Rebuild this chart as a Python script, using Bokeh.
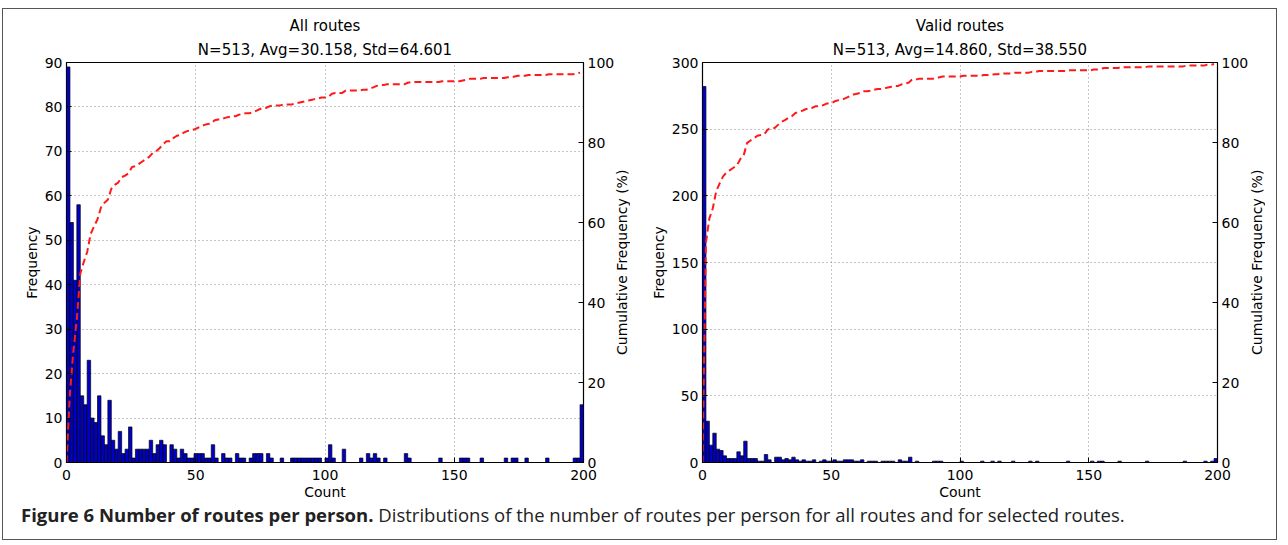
import numpy as np
from bokeh.plotting import figure
from bokeh.models import Range1d, LinearAxis, Title, Div, FixedTicker
from bokeh.layouts import row, column
from bokeh.embed import file_html
from bokeh.resources import INLINE

# ---- data ----
N_PERSONS = 513
BIN_COUNT = 150
X_MAX = 200

# histogram counts per bin, all routes (150 bins over 0..200)
all_routes_hist = [
    89, 54, 41, 58, 15, 13, 23, 10, 9, 15,
    6, 4, 14, 5, 3, 7, 2, 3, 8, 1,
    3, 3, 3, 3, 5, 2, 4, 5, 4, 0,
    4, 3, 1, 3, 2, 1, 1, 2, 2, 2,
    1, 1, 4, 1, 0, 2, 1, 1, 0, 2,
    1, 1, 0, 1, 2, 2, 2, 0, 2, 1,
    0, 0, 1, 0, 0, 1, 1, 1, 1, 1,
    1, 1, 1, 1, 0, 1, 4, 1, 0, 0,
    3, 0, 0, 0, 0, 1, 0, 2, 1, 2,
    1, 0, 1, 0, 0, 0, 0, 0, 2, 1,
    0, 0, 0, 0, 0, 0, 0, 0, 1, 0,
    0, 0, 0, 0, 1, 1, 1, 0, 0, 0,
    1, 0, 0, 0, 0, 0, 0, 1, 0, 1,
    1, 0, 0, 1, 0, 0, 0, 0, 0, 1,
    0, 0, 0, 0, 0, 0, 0, 1, 1, 13,
]

# histogram counts per bin, valid routes
valid_routes_hist = [
    282, 31, 13, 22, 10, 9, 5, 3, 3, 3,
    8, 5, 16, 3, 3, 3, 1, 1, 6, 2,
    0, 4, 4, 2, 3, 2, 4, 2, 1, 2,
    1, 1, 2, 0, 1, 2, 1, 1, 2, 1,
    1, 2, 2, 2, 1, 1, 2, 0, 1, 1,
    1, 0, 1, 1, 1, 1, 0, 2, 1, 1,
    4, 0, 1, 0, 0, 0, 0, 1, 1, 1,
    0, 0, 0, 0, 0, 1, 0, 0, 0, 0,
    0, 1, 0, 0, 1, 0, 1, 0, 0, 0,
    1, 0, 0, 0, 0, 1, 0, 1, 0, 0,
    0, 0, 0, 0, 0, 0, 1, 0, 0, 0,
    0, 0, 0, 1, 0, 1, 1, 0, 0, 0,
    0, 1, 0, 0, 0, 0, 0, 0, 0, 1,
    0, 0, 0, 0, 0, 0, 0, 0, 0, 0,
    1, 0, 0, 0, 0, 0, 1, 0, 1, 3,
]

titles_top = ["All routes", "Valid routes"]
titles_sub = ["N=513, Avg=30.158, Std=64.601", "N=513, Avg=14.860, Std=38.550"]
freq_max = [90, 300]
freq_ticks = [list(range(0, 91, 10)), list(range(0, 301, 50))]
x_ticks = [0, 50, 100, 150, 200]
pct_ticks = [0, 20, 40, 60, 80, 100]
pct_label = "Cumulative Frequency (%)"

FONT = "DejaVu Sans"
TOP = 53
FRAME_H = 400
FIG_H = 490


def style_axis(ax, label_standoff, axis_standoff):
    ax.major_tick_in = 5
    ax.major_tick_out = 0
    ax.minor_tick_in = 0
    ax.minor_tick_out = 0
    ax.axis_line_color = "black"
    ax.major_label_text_font = FONT
    ax.major_label_text_font_size = "14px"
    ax.major_label_text_color = "black"
    ax.axis_label_text_font = FONT
    ax.axis_label_text_font_size = "14px"
    ax.axis_label_text_font_style = "normal"
    ax.axis_label_text_color = "black"
    ax.major_label_standoff = label_standoff
    ax.axis_label_standoff = axis_standoff


def make_panel(hist, t1, t2, ymax, yticks, frame_w, mb_left, mb_right):
    hist = np.asarray(hist, dtype=float)
    w = X_MAX / BIN_COUNT
    left = np.arange(BIN_COUNT) * w
    right = left + w
    cum = np.concatenate([[0.0], np.cumsum(hist)[:-1]]) / N_PERSONS * 100.0

    p = figure(frame_width=frame_w, frame_height=FRAME_H,
               x_range=Range1d(0, X_MAX), y_range=Range1d(0, ymax),
               output_backend="svg", toolbar_location=None,
               min_border_left=mb_left, min_border_right=mb_right,
               min_border_top=TOP, min_border_bottom=0,
               background_fill_color="white", border_fill_color="white")
    p.title = None
    p.add_layout(Title(text=t2, align="center", text_font=FONT,
                       text_font_size="15px", text_font_style="normal",
                       text_color="black", standoff=8), "above")
    p.add_layout(Title(text=t1, align="center", text_font=FONT,
                       text_font_size="15px", text_font_style="normal",
                       text_color="black", standoff=0), "above")

    p.extra_y_ranges = {"pct": Range1d(0, 100)}

    p.quad(left=left, right=right, bottom=0, top=hist,
           fill_color="#0000C8", line_color="black", line_width=0.7)
    p.line(left, cum, y_range_name="pct", line_color="#FF1A1A",
           line_width=2, line_dash="7 4")

    p.outline_line_color = "black"
    p.outline_line_width = 1.2

    style_axis(p.xaxis[0], 7, 1)
    style_axis(p.yaxis[0], 4, 2)
    p.xaxis[0].ticker = FixedTicker(ticks=x_ticks)
    p.yaxis[0].ticker = FixedTicker(ticks=yticks)
    p.xaxis[0].axis_label = "Count"
    p.yaxis[0].axis_label = "Frequency"

    ax2 = LinearAxis(y_range_name="pct", ticker=FixedTicker(ticks=pct_ticks))
    style_axis(ax2, 4, 1)
    p.add_layout(ax2, "right")

    p.xgrid.ticker = FixedTicker(ticks=x_ticks)
    p.ygrid.ticker = FixedTicker(ticks=yticks)
    for g in (p.xgrid[0], p.ygrid[0]):
        g.grid_line_color = "#8c8c8c"
        g.grid_line_dash = "1 3"
        g.grid_line_width = 1
    return p


def side_label(width, shift):
    # right-axis title, reading bottom to top, centred on the frame
    html = ('<div style="height:%dpx; margin-top:%dpx; margin-left:%dpx; '
            'writing-mode:vertical-rl; transform:rotate(180deg); text-align:center; '
            'font-family:\'DejaVu Sans\'; font-size:14px; line-height:17px; '
            'color:black; white-space:nowrap;">%s</div>'
            % (FRAME_H, TOP, shift, pct_label))
    return Div(text=html, width=width, height=FIG_H, margin=0)


p1 = make_panel(all_routes_hist, titles_top[0], titles_sub[0], freq_max[0],
                freq_ticks[0], 517, 63, 30)
p2 = make_panel(valid_routes_hist, titles_top[1], titles_sub[1], freq_max[1],
                freq_ticks[1], 515, 58, 31)

d1 = side_label(27, -3)
d2 = side_label(25, -2)

caption = Div(
    text='<span style="font-weight:bold">Figure 6 Number of routes per person.</span>'
         ' Distributions of the number of routes per person for all routes and for selected routes.',
    styles={"font-family": "'Liberation Sans Narrow', 'Open Sans', sans-serif",
            "font-size": "18.5px", "color": "#222", "white-space": "nowrap",
            "line-height": "22px"},
    width=1200, height=30, margin=(2, 5, 5, 18))

layout = column(row(p1, d1, p2, d2), caption, margin=(8, 0, 0, 2),
                styles={"border": "1px solid #555", "background-color": "white"})

open("out.html", "w").write(file_html(layout, INLINE))
